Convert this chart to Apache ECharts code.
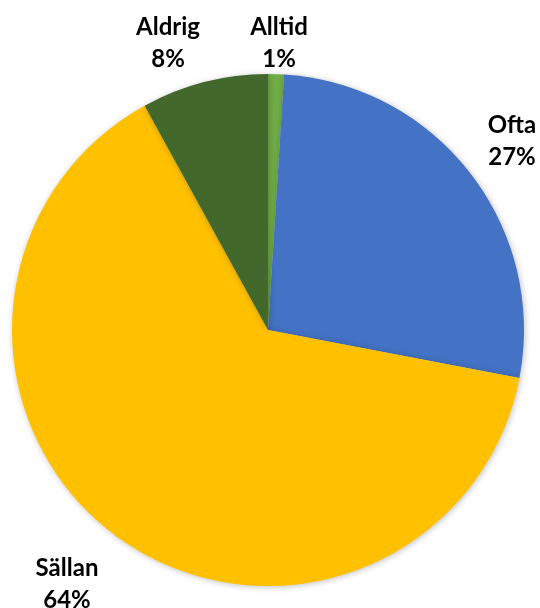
<!DOCTYPE html>
<html>
<head>
<meta charset="utf-8">
<script src="https://cdn.jsdelivr.net/npm/echarts@6/dist/echarts.min.js"></script>
<style>html,body{margin:0;padding:0;background:#fff}#c{width:540px;height:608px}</style>
</head>
<body>
<div id="c"></div>
<script>
const categories = ['Alltid', 'Ofta', 'Sällan', 'Aldrig'];
const values = [1, 27, 64, 8];
const colors = ['#70AD47', '#4472C4', '#FFC000', '#43682B'];
// label box centres (layout only)
const labelPos = [[279, 43], [512, 141], [67, 584], [168, 43]];

const chart = echarts.init(document.getElementById('c'), null, {renderer: 'canvas'});
chart.setOption({
  animation: false,
  series: [{
    type: 'pie',
    center: [268, 330],
    radius: 256,
    startAngle: 90,
    clockwise: true,
    data: categories.map((c, i) => ({name: c, value: values[i], itemStyle: {color: colors[i]}})),
    itemStyle: {borderWidth: 0, shadowBlur: 6, shadowColor: 'rgba(0,0,0,0.25)', shadowOffsetX: 1, shadowOffsetY: 1},
    label: {
      show: true,
      position: 'outside',
      alignTo: 'none',
      overflow: 'none',
      edgeDistance: 0,
      bleedMargin: 0,
      formatter: p => p.name + '\n' + Math.round(p.percent) + '%',
      fontFamily: 'Lato, "Open Sans", sans-serif',
      fontWeight: 'bold',
      fontSize: 24,
      lineHeight: 32,
      color: '#000',
      align: 'center'
    },
    labelLine: {show: false, length: 8, length2: 0},
    labelLayout: p => ({x: labelPos[p.dataIndex][0], y: labelPos[p.dataIndex][1], align: 'center', verticalAlign: 'middle'}),
    emphasis: {disabled: true}
  }]
});
</script>
</body>
</html>
